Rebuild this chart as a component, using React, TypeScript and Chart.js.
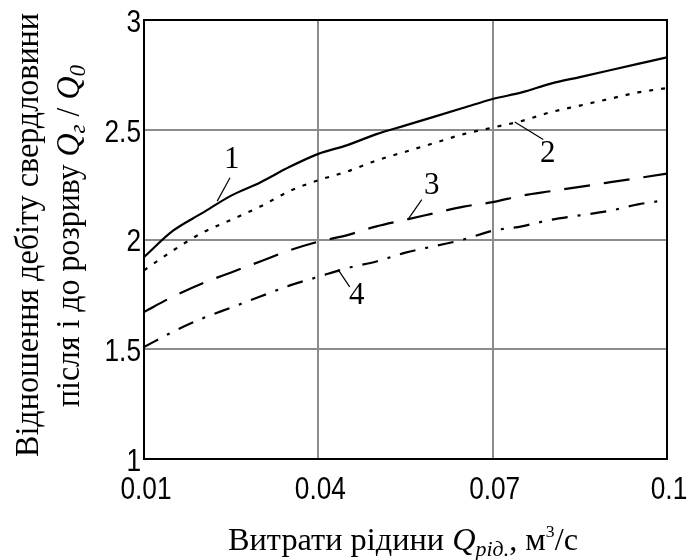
import React, { useEffect, useRef } from "react";
import { Chart, registerables } from "chart.js";

Chart.register(...registerables);

// ---- data ----
const xValues = [
  0.01, 0.015, 0.02, 0.025, 0.03, 0.035, 0.04, 0.045, 0.05, 0.055, 0.06,
  0.065, 0.07, 0.075, 0.08, 0.085, 0.09, 0.095, 0.1,
];
const curve1 = [
  1.92, 2.04, 2.12, 2.2, 2.26, 2.33, 2.39, 2.43, 2.48, 2.52, 2.56, 2.6, 2.64,
  2.67, 2.71, 2.74, 2.77, 2.8, 2.83,
];
const curve2 = [
  1.86, 1.95, 2.03, 2.09, 2.15, 2.22, 2.27, 2.31, 2.36, 2.4, 2.44, 2.48, 2.51,
  2.54, 2.58, 2.61, 2.64, 2.67, 2.69,
];
const curve3 = [
  1.67, 1.74, 1.8, 1.85, 1.9, 1.95, 1.99, 2.02, 2.06, 2.09, 2.12, 2.15, 2.17,
  2.2, 2.22, 2.24, 2.26, 2.28, 2.3,
];
const curve4 = [
  1.51, 1.58, 1.64, 1.69, 1.74, 1.79, 1.83, 1.87, 1.9, 1.94, 1.97, 2.0, 2.04,
  2.06, 2.09, 2.11, 2.13, 2.16, 2.18,
];

const xTickValues = [0.01, 0.04, 0.07, 0.1];
const xTickLabels = ["0.01", "0.04", "0.07", "0.1"];
const yTickValues = [1, 1.5, 2, 2.5, 3];
const yTickLabels = ["1", "1.5", "2", "2.5", "3"];

// curve labels with leader lines (data units)
const curveLabels = ["1", "2", "3", "4"];
const labelX = [0.0251, 0.0795, 0.0595, 0.0466];
const labelY = [2.365, 2.388, 2.243, 1.741];
const leaderFromX = [0.0248, 0.0787, 0.0578, 0.0454];
const leaderFromY = [2.281, 2.456, 2.182, 1.784];
const leaderToX = [0.0226, 0.0738, 0.0555, 0.0434];
const leaderToY = [2.175, 2.535, 2.094, 1.863];

// ---- styles ----
const SERIF = "'Liberation Serif', 'Times New Roman', serif";
const SANS = "'Liberation Sans', Arial, sans-serif";

type Seg = { text: string; italic?: boolean; size: number; dy?: number };

function drawRich(
  ctx: CanvasRenderingContext2D,
  segs: Seg[],
  originX: number,
  originY: number,
  targetWidth: number,
  rotated: boolean
) {
  ctx.save();
  ctx.translate(originX, originY);
  if (rotated) ctx.rotate(-Math.PI / 2);
  ctx.fillStyle = "#000";
  ctx.textBaseline = "alphabetic";
  ctx.textAlign = "left";
  const widths: number[] = [];
  let total = 0;
  for (const s of segs) {
    ctx.font = `${s.italic ? "italic " : ""}${s.size}px ${SERIF}`;
    const w = ctx.measureText(s.text).width;
    widths.push(w);
    total += w;
  }
  const k = targetWidth / total;
  ctx.scale(k, 1);
  let x = -total / 2;
  segs.forEach((s, i) => {
    ctx.font = `${s.italic ? "italic " : ""}${s.size}px ${SERIF}`;
    ctx.fillText(s.text, x, s.dy || 0);
    x += widths[i];
  });
  ctx.restore();
}

function drawTick(
  ctx: CanvasRenderingContext2D,
  text: string,
  x: number,
  y: number,
  align: CanvasTextAlign
) {
  ctx.save();
  ctx.translate(x, y);
  ctx.scale(0.82, 1);
  ctx.font = `32px ${SANS}`;
  ctx.fillStyle = "#000";
  ctx.textAlign = align;
  ctx.textBaseline = "middle";
  ctx.fillText(text, 0, 0);
  ctx.restore();
}

const decorPlugin = {
  id: "decor",
  afterDraw(chart: any) {
    const ctx: CanvasRenderingContext2D = chart.ctx;
    const { left, right, top, bottom } = chart.chartArea;
    const xs = chart.scales.x;
    const ys = chart.scales.y;

    // frame
    ctx.save();
    ctx.strokeStyle = "#000";
    ctx.lineWidth = 2;
    ctx.strokeRect(left, top, right - left, bottom - top);
    ctx.restore();

    // tick labels
    xTickValues.forEach((v, i) => {
      drawTick(ctx, xTickLabels[i], xs.getPixelForValue(v) + 2, bottom + 31, "center");
    });
    yTickValues.forEach((v, i) => {
      drawTick(ctx, yTickLabels[i], left - 3, ys.getPixelForValue(v) + 3, "right");
    });

    // curve labels + leader lines
    ctx.save();
    ctx.strokeStyle = "#000";
    ctx.lineWidth = 1.2;
    ctx.fillStyle = "#000";
    ctx.font = `31px ${SERIF}`;
    ctx.textAlign = "center";
    ctx.textBaseline = "middle";
    curveLabels.forEach((t, i) => {
      ctx.beginPath();
      ctx.moveTo(xs.getPixelForValue(leaderFromX[i]), ys.getPixelForValue(leaderFromY[i]));
      ctx.lineTo(xs.getPixelForValue(leaderToX[i]), ys.getPixelForValue(leaderToY[i]));
      ctx.stroke();
      ctx.fillText(t, xs.getPixelForValue(labelX[i]), ys.getPixelForValue(labelY[i]));
    });
    ctx.restore();

    // x axis title
    drawRich(
      ctx,
      [
        { text: "Витрати рідини ", size: 31 },
        { text: "Q", italic: true, size: 31 },
        { text: "рід.", italic: true, size: 21, dy: 6 },
        { text: ", м", size: 31 },
        { text: "3", size: 17, dy: -13 },
        { text: "/с", size: 31 },
      ],
      403,
      550,
      350,
      false
    );

    // y axis title (two lines)
    drawRich(
      ctx,
      [{ text: "Відношення дебіту свердловини", size: 33 }],
      38,
      235,
      444,
      true
    );
    drawRich(
      ctx,
      [
        { text: "після і до розриву ", size: 33 },
        { text: "Q", italic: true, size: 33 },
        { text: "г", italic: true, size: 24, dy: 6 },
        { text: " / ", size: 33 },
        { text: "Q", italic: true, size: 33 },
        { text: "0", italic: true, size: 24, dy: 6 },
      ],
      79,
      236,
      342,
      true
    );
  },
};

export default function App() {
  const canvasRef = useRef<HTMLCanvasElement | null>(null);

  useEffect(() => {
    const canvas = canvasRef.current;
    if (!canvas) return;
    const mk = (ys: number[]) => xValues.map((x, i) => ({ x, y: ys[i] }));
    const chart = new Chart(canvas, {
      type: "line",
      data: {
        datasets: [
          { data: mk(curve1), borderColor: "#000", borderWidth: 2.2, borderDash: [] },
          { data: mk(curve2), borderColor: "#000", borderWidth: 2.2, borderDash: [4, 8] },
          { data: mk(curve3), borderColor: "#000", borderWidth: 2.2, borderDash: [26, 14] },
          { data: mk(curve4), borderColor: "#000", borderWidth: 2.2, borderDash: [16, 10, 3, 10] },
        ] as any,
      },
      options: {
        responsive: false,
        animation: false,
        devicePixelRatio: 1,
        layout: { padding: { top: 20, right: 22, left: 0, bottom: 0 } },
        elements: {
          point: { radius: 0 },
          line: { cubicInterpolationMode: "monotone", fill: false },
        },
        plugins: {
          legend: { display: false },
          tooltip: { enabled: false },
          title: { display: false },
        },
        scales: {
          x: {
            type: "linear",
            min: 0.01,
            max: 0.1,
            afterBuildTicks: (s: any) => {
              s.ticks = xTickValues.map((v) => ({ value: v }));
            },
            afterFit: (s: any) => {
              s.height = 101;
            },
            ticks: { display: false },
            grid: { color: "#8c8c8c", lineWidth: 2, drawTicks: false },
            border: { display: false },
          },
          y: {
            type: "linear",
            min: 1,
            max: 3,
            afterBuildTicks: (s: any) => {
              s.ticks = yTickValues.map((v) => ({ value: v }));
            },
            afterFit: (s: any) => {
              s.width = 144;
            },
            ticks: { display: false },
            grid: { color: "#8c8c8c", lineWidth: 2, drawTicks: false },
            border: { display: false },
          },
        },
      } as any,
      plugins: [decorPlugin],
    });
    return () => chart.destroy();
  }, []);

  return (
    <div style={{ position: "absolute", left: 0, top: 0, width: 689, height: 560, background: "#fff" }}>
      <canvas ref={canvasRef} width={689} height={560} style={{ display: "block", width: 689, height: 560 }} />
    </div>
  );
}
